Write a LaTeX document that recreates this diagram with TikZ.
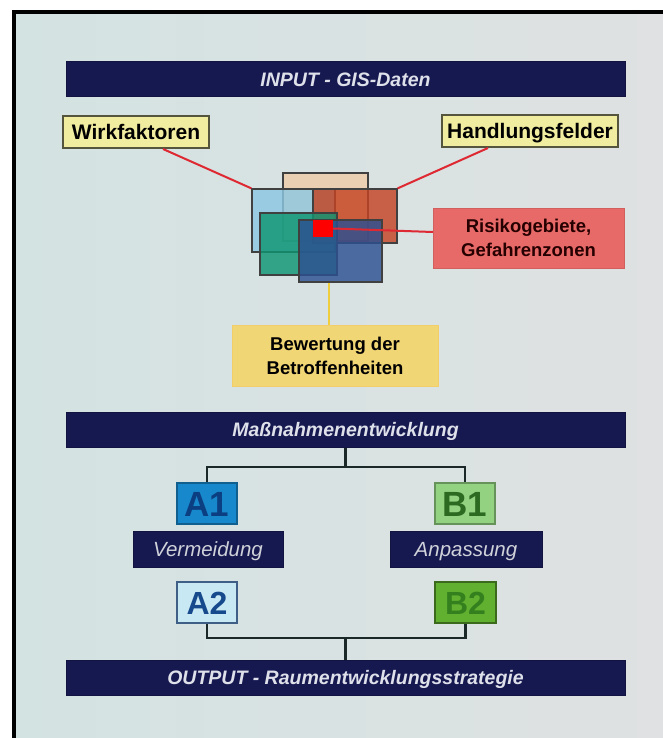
\documentclass[tikz,border=0pt]{standalone}
\usepackage{fontspec}
\setmainfont{Liberation Sans}
\usetikzlibrary{calc}

\definecolor{navy}{RGB}{22,24,80}
\definecolor{bartext}{RGB}{222,224,234}
\definecolor{bgleft}{RGB}{211,227,226}
\definecolor{bgright}{RGB}{223,225,226}
\definecolor{lblyellow}{RGB}{240,236,160}
\definecolor{lblborder}{RGB}{85,85,62}
\definecolor{riskred}{RGB}{232,106,104}
\definecolor{bewyellow}{RGB}{241,214,118}
\definecolor{linkred}{RGB}{222,40,50}
\definecolor{linkyellow}{RGB}{238,206,60}
\definecolor{treeline}{RGB}{26,40,40}
\definecolor{aone}{RGB}{24,136,204}
\definecolor{aonetext}{RGB}{12,62,130}
\definecolor{atwo}{RGB}{200,232,244}
\definecolor{atwotext}{RGB}{22,74,140}
\definecolor{bone}{RGB}{146,210,128}
\definecolor{bonetext}{RGB}{44,106,34}
\definecolor{btwo}{RGB}{98,176,48}
\definecolor{btwotext}{RGB}{52,128,30}
\definecolor{peach}{RGB}{240,204,168}
\definecolor{skyblue}{RGB}{140,200,226}
\definecolor{rust}{RGB}{196,68,36}
\definecolor{teal}{RGB}{14,150,114}
\definecolor{steel}{RGB}{44,80,146}

\tikzset{
  capcentre/.style={text height=#1, text depth=0pt},
  bar/.style={fill=navy, draw=navy!80!black, line width=1pt, minimum width=559pt,
    minimum height=35pt, inner sep=0pt, text=bartext, capcentre=14pt,
    font=\bfseries\itshape\fontsize{19.5}{19.5}\selectfont},
  subbar/.style={fill=navy, draw=navy!80!black, line width=1pt, minimum height=36pt,
    inner sep=0pt, text=bartext!85!gray, capcentre=14.8pt,
    font=\itshape\fontsize{20.5}{20.5}\selectfont},
  label/.style={fill=lblyellow, draw=lblborder, line width=2pt, minimum height=32pt,
    inner sep=0pt, capcentre=15.1pt, font=\bfseries\fontsize{21}{21}\selectfont},
  infobox/.style={minimum height=60pt, inner sep=0pt, align=center,
    font=\bfseries\fontsize{18.5}{24}\selectfont, text=black!85!red},
  tag/.style={minimum width=60pt, minimum height=41pt, inner sep=0pt, line width=1.5pt,
    capcentre=23pt, font=\bfseries\fontsize{32}{32}\selectfont},
  bigtag/.style={tag, capcentre=25.2pt, font=\bfseries\fontsize{35}{35}\selectfont},
  layer/.style={draw=black!75, line width=1.3pt, inner sep=0pt, fill opacity=0.82},
  redlink/.style={draw=linkred, line width=2pt},
  tree/.style={draw=treeline, line width=2.5pt},
}

\begin{document}
\begin{tikzpicture}[x=1pt, y=-1pt]
  % background and frame
  \useasboundingbox (0,0) rectangle (663,738);
  \fill[white] (0,0) rectangle (663,738);
  \shade[left color=bgleft, right color=bgright] (14,12) rectangle (663,738);
  \draw[black, line width=3.5pt] (14,738) -- (14,12) -- (663,12);

  % top input bar and labels
  \node[bar] (inp) at (345.5,79.5) {INPUT - GIS-Daten};
  \node[label, minimum width=146pt] (wirk) at (136,132) {Wirkfaktoren};
  \node[label, minimum width=176pt] (hand) at (530,131) {Handlungsfelder};

  % overlapping GIS layers
  \node[layer, fill=peach, minimum width=85pt, minimum height=68pt] (pe) at (325.5,207) {};
  \node[layer, fill=skyblue, minimum width=83pt, minimum height=63pt] (lb) at (293.5,220.5) {};
  \node[layer, fill=rust, minimum width=84pt, minimum height=54pt] (rb) at (355,216) {};
  \node[layer, fill=teal, minimum width=77pt, minimum height=62pt] (tg) at (298.5,244) {};
  \node[layer, fill=steel, minimum width=83pt, minimum height=62pt] (db) at (340.5,251) {};
  \node[fill=red, inner sep=0pt, minimum width=20pt, minimum height=17pt] (rsq) at (323,228.5) {};

  % result boxes
  \node[infobox, fill=riskred, draw=riskred!90!black, minimum width=191pt] (risk) at (528.5,238)
    {Risikogebiete,\\Gefahrenzonen};
  \node[infobox, fill=bewyellow, draw=bewyellow!90!orange, minimum width=206pt, minimum height=61pt,
    text=black] (bew) at (335,355.5) {Bewertung der\\Betroffenheiten};

  % links between labels, layers and results
  \draw[redlink] ([xshift=27pt]wirk.south) -- (lb.north west);
  \draw[redlink] ([xshift=-42pt]hand.south) -- (rb.north east);
  \draw[redlink] (rsq.east) -- ([yshift=6pt]risk.west);
  \draw[draw=linkyellow, line width=2pt] ([xshift=-12pt]db.south) -- ([xshift=-12pt]db.south |- bew.north);

  % measures
  \node[bar] (mass) at (345.5,429.5) {Maßnahmenentwicklung};
  \node[bigtag, fill=aone, draw=aone!70!black, text=aonetext] (a1) at (207,503.5) {A1};
  \node[bigtag, fill=bone, draw=bone!70!black, text=bonetext] (b1) at (465,503.5) {B1};
  \node[subbar, minimum width=150pt] (verm) at (208,549) {Vermeidung};
  \node[subbar, minimum width=152pt] (anp) at (466,549) {Anpassung};
  \node[tag, fill=atwo, draw=atwotext!60!gray, text=atwotext] (a2) at (207,602.5) {A2};
  \node[tag, fill=btwo, draw=btwo!60!black, text=btwotext, minimum width=61pt] (b2) at (465.5,602.5) {B2};
  \node[bar] (out) at (345.5,677.5) {OUTPUT - Raumentwicklungsstrategie};

  % tree connectors
  \coordinate (j1) at (345.5,467);
  \coordinate (j2) at (345.5,638);
  \draw[tree] (mass.south) -- (j1);
  \draw[tree] (a1.north) |- (j1) -| (b1.north);
  \draw[tree] (a2.south) |- (j2) -| (b2.south);
  \draw[tree] (j2) -- (out.north);
\end{tikzpicture}
\end{document}
